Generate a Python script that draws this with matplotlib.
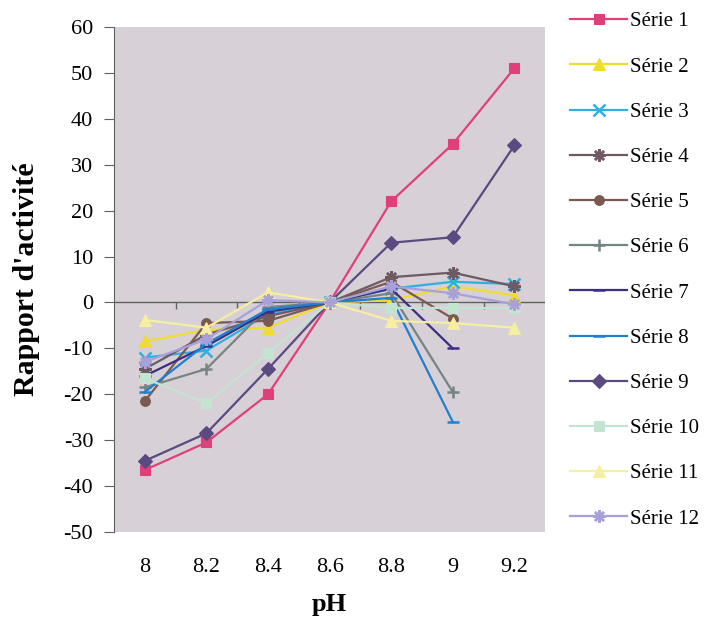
import numpy as np
import matplotlib
matplotlib.use("Agg")
from matplotlib import pyplot as plt

nan = np.nan

# pH categories
ph = ['8', '8.2', '8.4', '8.6', '8.8', '9', '9.2']

# values (series 5 to 8 stop at pH 9)
s1 = [-36.5, -30.5, -20, 0, 22, 34.5, 51]
s2 = [-8.5, -6, -5.5, 0, 0.5, 3.5, 1.5]
s3 = [-12, -10.5, -2.5, 0, 3, 4.5, 4]
s4 = [-14.5, -7, -3, 0, 5.5, 6.5, 3.5]
s5 = [-21.5, -4.5, -4, 0, 4.5, -3.5, nan]
s6 = [-18.5, -14.5, -1, 0, 2, -19.5, nan]
s7 = [-16, -9.5, -2, 0, 3, -10, nan]
s8 = [-19.5, -9, -1.5, 0, 1, -26, nan]
s9 = [-34.5, -28.5, -14.5, 0, 13, 14.2, 34.2]
s10 = [-16.5, -22, -11, 0, -1.2, -1.2, -1.2]
s11 = [-3.8, -5.5, 2.2, 0, -4, -4.5, -5.5]
s12 = [-13, -8, 0.5, 0, 3.5, 2, -0.4]

series = [s1, s2, s3, s4, s5, s6, s7, s8, s9, s10, s11, s12]
names = ['Série %d' % (i + 1) for i in range(12)]

colors = ['#e0407a', '#f0dc30', '#30b0e0', '#6e5a64', '#7a5a50', '#768484',
          '#3c2e80', '#2080d0', '#5a4a80', '#c4e4d2', '#f6eea0', '#a8a0d8']
markers = ['s', '^', 'x', (8, 2, 0), 'o', '+', '_', '_', 'D', 's', '^', (8, 2, 0)]
msizes = [7, 8, 8, 9, 7, 9, 8, 8, 7, 7, 8, 9]

plt.rcParams['font.family'] = ['Liberation Serif', 'DejaVu Serif']
plt.rcParams['axes.unicode_minus'] = False

fig = plt.figure(figsize=(7.08, 6.27), dpi=100)
ax = fig.add_axes([0.161, 0.1515, 0.609, 0.8055])
ax.set_facecolor('#d7d0d6')

x = np.arange(len(ph))
for vals, name, c, m, ms in zip(series, names, colors, markers, msizes):
    ax.plot(x, vals, color=c, marker=m, markersize=ms, linewidth=1.6,
            markeredgewidth=1.8 if m in ('x', '+', '_') or isinstance(m, tuple) else 0.8,
            markeredgecolor=c, label=name)

# horizontal category axis at zero with small ticks between categories
ax.axhline(0, color='#606060', linewidth=1.0, zorder=1)
ax.vlines(x[:-1] + 0.5, -1.5, 0, color='#606060', linewidth=1.0, zorder=1)

ax.set_xlim(-0.5, 6.5)
ax.set_ylim(-50, 60)
ax.set_yticks(np.arange(-50, 61, 10))
ax.set_xticks(x)
ax.set_xticklabels(ph)
ax.tick_params(axis='x', length=0, pad=19, labelsize=16)
ax.tick_params(axis='y', length=7, direction='out', labelsize=16, pad=8, color='#606060')

for side in ['top', 'right', 'bottom']:
    ax.spines[side].set_visible(False)
ax.spines['left'].set_color('#606060')

ax.set_ylabel("Rapport d'activité", fontsize=21.5, fontweight='bold', labelpad=17)
ax.set_xlabel('pH', fontsize=19, fontweight='bold', labelpad=11)

fig.legend(loc='center left', bbox_to_anchor=(0.779, 0.569), frameon=False,
           fontsize=15, labelspacing=1.23, handlelength=2.74, handletextpad=0.15)

fig.savefig('out.png', dpi=100)
